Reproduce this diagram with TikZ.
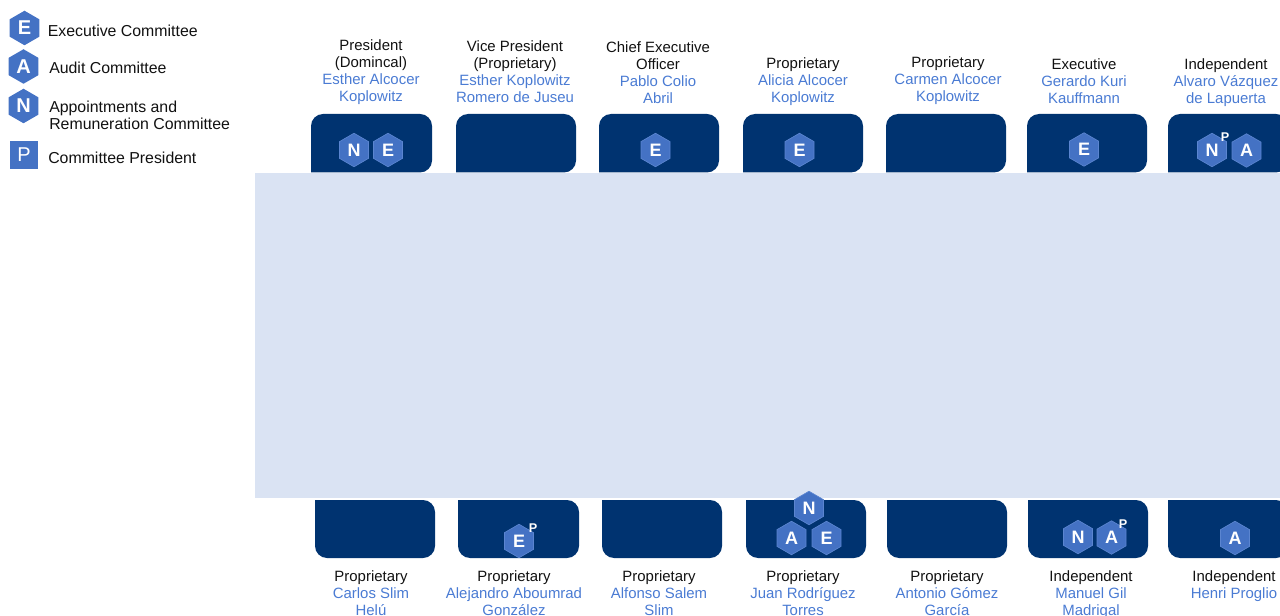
\documentclass[tikz,border=0pt]{standalone}
\usepackage{fontspec}
\setmainfont{Liberation Sans}
\usetikzlibrary{shapes.geometric}
\definecolor{navy}{HTML}{003370}
\definecolor{hexblue}{HTML}{4472C4}
\definecolor{hexedge}{HTML}{5B85D0}
\definecolor{panelblue}{HTML}{DAE3F3}
\definecolor{nameblue}{HTML}{4A7BD3}
\definecolor{ink}{HTML}{111111}
\tikzset{
  hexbadge/.style={regular polygon,regular polygon sides=6,regular polygon rotate=30,minimum size=33.5*0.75pt,inner sep=0pt,outer sep=0pt,fill=hexblue,draw=hexedge,line width=0.5pt,text=white,font=\fontsize{13.5pt}{14pt}\selectfont\bfseries},
  legendhex/.style={hexbadge,minimum size=34.5*0.75pt,draw=none,font=\fontsize{15pt}{16pt}\selectfont\bfseries},
  psup/.style={inner sep=0pt,text=white,font=\fontsize{9.5pt}{10pt}\selectfont\bfseries},
  legendtext/.style={inner sep=0pt,anchor=west,align=left,text=ink,font=\fontsize{11.9pt}{12.8pt}\selectfont},
  seatlabel/.style={inner sep=0pt,anchor=north,align=center,text=ink,font=\fontsize{11.2pt}{12.75pt}\selectfont},
  card/.style={fill=navy,rounded corners=9pt},
}
\newcommand{\nm}[1]{\textcolor{nameblue}{#1}}
\newcommand{\topcard}[2]{\fill[card] (#1,172.5) -- (#1,114) -- (#2,114) -- (#2,172.5) [sharp corners] -- cycle;}
\newcommand{\botcard}[2]{\fill[card] (#1,500) -- (#1,558) -- (#2,558) -- (#2,500) [sharp corners] -- cycle;}
\begin{document}
\begin{tikzpicture}[x=0.75pt,y=-0.75pt]
\useasboundingbox (0,0) rectangle (1280,616);
\clip (0,0) rectangle (1280,616);
% legend
\node[legendhex] (legE) at (24.5,28) {E};
\node[legendhex] (legA) at (23.5,66.5) {A};
\node[legendhex] (legN) at (23.5,106) {N};
\node[fill=hexblue,minimum size=28.5*0.75pt,inner sep=0pt,text=white,font=\fontsize{15pt}{16pt}\selectfont] (legP) at (24,155) {P};
\node[legendtext] (legEt) at (47.5,31) {Executive Committee};
\node[legendtext] (legAt) at (49,68) {Audit Committee};
\node[legendtext] (legNt) at (49,115.5) {Appointments and\\Remuneration Committee};
\node[legendtext] (legPt) at (48,158) {Committee President};
% top cards
\topcard{311}{432}
\topcard{456}{576}
\topcard{599}{719}
\topcard{743}{863}
\topcard{886}{1006}
\topcard{1027}{1147}
\topcard{1168}{1288}
% bottom cards
\botcard{315}{435}
\botcard{458}{579}
\botcard{602}{722}
\botcard{746}{866}
\botcard{887}{1007}
\botcard{1028}{1148}
\botcard{1168}{1288}
% central panel
\fill[panelblue] (255,173) rectangle (1280,498);
% top labels
\node[seatlabel] (t1) at (371,39.5) {President\\(Domincal)\\\nm{Esther Alcocer}\\\nm{Koplowitz}};
\node[seatlabel] (t2) at (515,40.5) {Vice President\\(Proprietary)\\\nm{Esther Koplowitz}\\\nm{Romero de Juseu}};
\node[seatlabel] (t3) at (658,41) {Chief Executive\\Officer\\\nm{Pablo Colio}\\\nm{Abril}};
\node[seatlabel] (t4) at (803,57) {Proprietary\\\nm{Alicia Alcocer}\\\nm{Koplowitz}};
\node[seatlabel] (t5) at (948,56) {Proprietary\\\nm{Carmen Alcocer}\\\nm{Koplowitz}};
\node[seatlabel] (t6) at (1084,58) {Executive\\\nm{Gerardo Kuri}\\\nm{Kauffmann}};
\node[seatlabel] (t7) at (1226,58) {Independent\\\nm{Alvaro Vázquez}\\\nm{de Lapuerta}};
% bottom labels
\node[seatlabel] (b1) at (371,570.5) {Proprietary\\\nm{Carlos Slim}\\\nm{Helú}};
\node[seatlabel] (b2) at (514,570.5) {Proprietary\\\nm{Alejandro Aboumrad}\\\nm{González}};
\node[seatlabel] (b3) at (659,570.5) {Proprietary\\\nm{Alfonso Salem}\\\nm{Slim}};
\node[seatlabel] (b4) at (803,570.5) {Proprietary\\\nm{Juan Rodríguez}\\\nm{Torres}};
\node[seatlabel] (b5) at (947,570.5) {Proprietary\\\nm{Antonio Gómez}\\\nm{García}};
\node[seatlabel] (b6) at (1091,570.5) {Independent\\\nm{Manuel Gil}\\\nm{Madrigal}};
\node[seatlabel] (b7) at (1234,570.5) {Independent\\\nm{Henri Proglio}};
% badges top
\node[hexbadge] (h1) at (354,150) {N};
\node[hexbadge] (h2) at (388,150) {E};
\node[hexbadge] (h3) at (655.5,150) {E};
\node[hexbadge] (h4) at (799.5,150) {E};
\node[hexbadge] (h5) at (1084,149.5) {E};
\node[hexbadge] (h6) at (1212,150) {N};
\node[hexbadge] (h7) at (1246.5,150.5) {A};
\node[psup] (p1) at (1225,137) {P};
% badges bottom
\node[hexbadge] (h8) at (519,541) {E};
\node[psup] (p2) at (533,528) {P};
\node[hexbadge] (h9) at (809,508) {N};
\node[hexbadge] (h10) at (791.5,538) {A};
\node[hexbadge] (h11) at (826.5,538) {E};
\node[hexbadge] (h12) at (1078,537) {N};
\node[hexbadge] (h13) at (1111.5,537.5) {A};
\node[psup] (p3) at (1123,524.5) {P};
\node[hexbadge] (h14) at (1235,538) {A};
\end{tikzpicture}
\end{document}
